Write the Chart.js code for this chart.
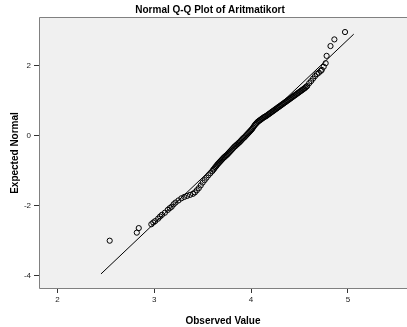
<!DOCTYPE html>
<html>
<head>
<meta charset="utf-8">
<script src="https://cdn.jsdelivr.net/npm/chart.js"></script>
<style>
  body { margin: 0; background: #fff; }
  #wrap { width: 407px; height: 327px; }
</style>
</head>
<body>
<div id="wrap"><canvas id="myChart"></canvas></div>
<script>
var observed = [2.54, 2.82, 2.84,
  2.97, 2.99, 3.01, 3.04, 3.06, 3.08, 3.11, 3.14, 3.16, 3.18, 3.20, 3.22, 3.25, 3.28, 3.31, 3.34,
  3.37, 3.40, 3.42, 3.44, 3.46, 3.48, 3.50, 3.52, 3.54, 3.56, 3.58, 3.60, 3.61, 3.62, 3.63, 3.64, 3.65, 3.66, 3.67, 3.68,
  3.69, 3.70, 3.71, 3.72, 3.73, 3.74, 3.75, 3.76, 3.77, 3.78, 3.79, 3.80, 3.81, 3.82, 3.83, 3.84, 3.85, 3.86, 3.87, 3.88,
  3.89, 3.90, 3.91, 3.92, 3.93, 3.94, 3.95, 3.96, 3.97, 3.98, 3.99, 4.00, 4.01, 4.02, 4.03, 4.04, 4.05, 4.06, 4.07, 4.08,
  4.09, 4.10, 4.11, 4.12, 4.13, 4.14, 4.15, 4.16, 4.17, 4.18, 4.19, 4.20, 4.21, 4.22, 4.23, 4.24, 4.25, 4.26, 4.27, 4.28,
  4.29, 4.30, 4.31, 4.32, 4.33, 4.34, 4.35, 4.36, 4.37, 4.38, 4.39, 4.40, 4.41, 4.42, 4.43, 4.44, 4.45, 4.46, 4.47, 4.48,
  4.49, 4.50, 4.51, 4.52, 4.53, 4.54, 4.55, 4.56, 4.57, 4.58, 4.60, 4.62, 4.64,
  4.66, 4.68, 4.70, 4.72, 4.73, 4.75, 4.77, 4.78, 4.82, 4.86, 4.97];
var expected = [-3.00, -2.77, -2.64,
  -2.53, -2.48, -2.44, -2.37, -2.31, -2.26, -2.20, -2.12, -2.07, -2.03, -1.96, -1.91, -1.85, -1.79, -1.75, -1.72,
  -1.69, -1.66, -1.62, -1.56, -1.50, -1.42, -1.34, -1.27, -1.20, -1.13, -1.07, -1.01, -0.97, -0.94, -0.90, -0.87, -0.83, -0.80, -0.77, -0.74,
  -0.71, -0.68, -0.65, -0.62, -0.60, -0.57, -0.55, -0.52, -0.49, -0.46, -0.43, -0.40, -0.37, -0.34, -0.31, -0.29, -0.26, -0.24, -0.21, -0.19,
  -0.16, -0.13, -0.10, -0.07, -0.05, -0.02, 0.01, 0.04, 0.07, 0.10, 0.13, 0.16, 0.19, 0.23, 0.27, 0.31, 0.34, 0.37, 0.40, 0.42,
  0.44, 0.46, 0.48, 0.50, 0.52, 0.54, 0.55, 0.57, 0.59, 0.61, 0.63, 0.65, 0.67, 0.69, 0.71, 0.73, 0.75, 0.77, 0.79, 0.81,
  0.83, 0.85, 0.87, 0.89, 0.91, 0.93, 0.95, 0.97, 0.99, 1.01, 1.03, 1.05, 1.07, 1.09, 1.11, 1.13, 1.15, 1.17, 1.19, 1.21,
  1.23, 1.25, 1.27, 1.29, 1.31, 1.33, 1.35, 1.37, 1.40, 1.42, 1.50, 1.56, 1.63,
  1.70, 1.76, 1.80, 1.85, 1.88, 1.97, 2.07, 2.28, 2.56, 2.75, 2.96];

// reference line end points
var lineX = [2.45, 5.06];
var lineY = [-3.95, 2.90];

var xTicks = [2, 3, 4, 5];
var yTicks = [-4, -2, 0, 2];

var points = [];
for (i = 0; i < observed.length; i++) {
    points.push({x: observed[i], y: expected[i]});
}
var linePts = [];
for (i = 0; i < lineX.length; i++) {
    linePts.push({x: lineX[i], y: lineY[i]});
}

// gray plot background and frame
var frame = {
    id: 'frame',
    beforeDatasetsDraw: function(chart) {
        var a = chart.chartArea, c = chart.ctx;
        c.save();
        c.fillStyle = '#f0f0f0';
        c.fillRect(a.left, a.top, a.right - a.left, a.bottom - a.top);
        c.strokeStyle = '#808080';
        c.lineWidth = 1;
        c.beginPath();
        c.moveTo(a.right, a.top + 0.5);
        c.lineTo(a.left + 0.5, a.top + 0.5);
        c.lineTo(a.left + 0.5, a.bottom - 0.5);
        c.lineTo(a.right, a.bottom - 0.5);
        c.stroke();
        c.restore();
    }
};

Chart.defaults.font.family = '"Liberation Sans", Arial, sans-serif';
Chart.defaults.color = '#222';

const ctx = document.getElementById('myChart');
const myChart = new Chart(ctx, {
    type: 'scatter',
    data: {
        datasets: [{
            data: points,
            pointRadius: 2.6,
            pointBorderWidth: 1,
            borderColor: '#000',
            backgroundColor: 'rgba(0,0,0,0)',
            order: 1
        }, {
            data: linePts,
            showLine: true,
            pointRadius: 0,
            borderColor: '#000',
            borderWidth: 1,
            order: 2
        }]
    },
    options: {
        responsive: true,
        maintainAspectRatio: false,
        animation: false,
        layout: { autoPadding: false, padding: { left: 13, right: 0, top: 0, bottom: 0 } },
        plugins: {
            legend: { display: false },
            tooltip: { enabled: false },
            title: {
                display: true,
                text: 'Normal Q-Q Plot of Aritmatikort',
                color: '#000',
                font: { size: 10, weight: 'bold' },
                padding: { top: 4, bottom: 1 }
            }
        },
        scales: {
            x: {
                type: 'linear',
                min: 1.81,
                max: 5.61,
                afterBuildTicks: function(scale) {
                    scale.ticks = xTicks.map(function(v) { return {value: v}; });
                },
                afterFit: function(scale) { scale.height = 38; },
                grid: { drawOnChartArea: false, drawTicks: true, tickLength: 4, color: '#333' },
                border: { display: false },
                ticks: { font: { size: 8 }, padding: 2, maxRotation: 0 },
                title: {
                    display: true,
                    text: 'Observed Value',
                    color: '#000',
                    font: { size: 10, weight: 'bold' },
                    padding: { top: 6, bottom: 0 }
                }
            },
            y: {
                type: 'linear',
                min: -4.38,
                max: 3.39,
                afterBuildTicks: function(scale) {
                    scale.ticks = yTicks.map(function(v) { return {value: v}; });
                },
                afterFit: function(scale) { scale.width = 26; },
                grid: { drawOnChartArea: false, drawTicks: true, tickLength: 5, color: '#333' },
                border: { display: false },
                ticks: { font: { size: 8 }, padding: 3 },
                title: {
                    display: true,
                    text: 'Expected Normal',
                    color: '#000',
                    font: { size: 10, weight: 'bold' },
                    padding: { top: -4, bottom: 0 }
                }
            }
        }
    },
    plugins: [frame]
});
</script>
</body>
</html>
